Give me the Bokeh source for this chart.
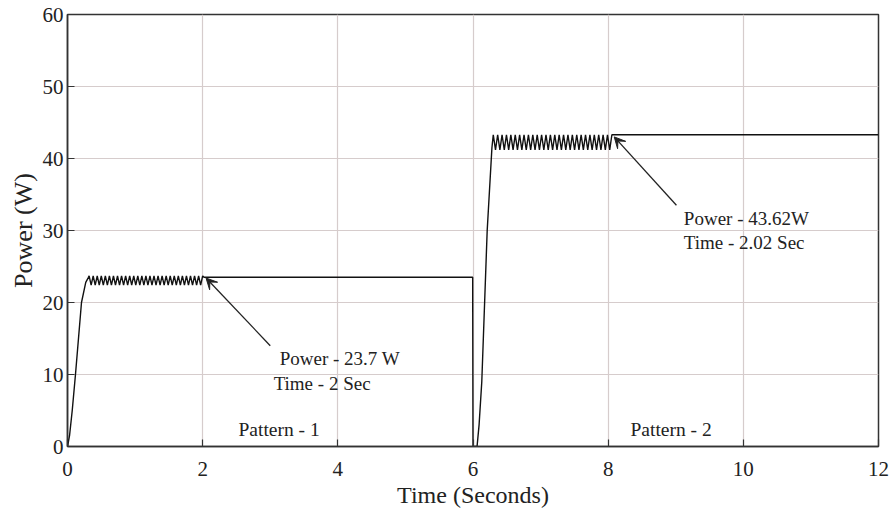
from bokeh.plotting import figure
from bokeh.models import Arrow, VeeHead, Range1d, FixedTicker
from bokeh.core.properties import value
from bokeh.embed import file_html
from bokeh.resources import INLINE

# ---- data ----
rise1_t = [0.0, 0.03, 0.07, 0.118, 0.207, 0.27, 0.31]
rise1_p = [0.0, 1.5, 5.0, 10.0, 20.0, 22.8, 23.5]

osc1_t = [0.32, 0.35, 0.38, 0.41, 0.44, 0.47, 0.50, 0.53, 0.56, 0.59, 0.62, 0.65,
          0.68, 0.71, 0.74, 0.77, 0.80, 0.83, 0.86, 0.89, 0.92, 0.95, 0.98, 1.01,
          1.04, 1.07, 1.10, 1.13, 1.16, 1.19, 1.22, 1.25, 1.28, 1.31, 1.34, 1.37,
          1.40, 1.43, 1.46, 1.49, 1.52, 1.55, 1.58, 1.61, 1.64, 1.67, 1.70, 1.73,
          1.76, 1.79, 1.82, 1.85, 1.88, 1.91, 1.94, 1.97, 2.00]
osc1_p = [23.7, 22.4, 23.7, 22.4, 23.7, 22.4, 23.7, 22.4, 23.7, 22.4, 23.7, 22.4,
          23.7, 22.4, 23.7, 22.4, 23.7, 22.4, 23.7, 22.4, 23.7, 22.4, 23.7, 22.4,
          23.7, 22.4, 23.7, 22.4, 23.7, 22.4, 23.7, 22.4, 23.7, 22.4, 23.7, 22.4,
          23.7, 22.4, 23.7, 22.4, 23.7, 22.4, 23.7, 22.4, 23.7, 22.4, 23.7, 22.4,
          23.7, 22.4, 23.7, 22.4, 23.7, 22.4, 23.7, 22.4, 23.7]

flat1_t = [2.02, 5.995, 6.0, 6.06, 6.09, 6.13, 6.21, 6.28]
flat1_p = [23.5, 23.5, 0.0, 0.0, 3.0, 9.0, 30.0, 41.5]

osc2_t = [6.300, 6.333, 6.365, 6.398, 6.430, 6.463, 6.495, 6.528, 6.560, 6.593,
          6.625, 6.658, 6.690, 6.723, 6.755, 6.788, 6.820, 6.853, 6.885, 6.918,
          6.950, 6.983, 7.015, 7.048, 7.080, 7.113, 7.145, 7.178, 7.210, 7.243,
          7.275, 7.308, 7.340, 7.373, 7.405, 7.438, 7.470, 7.503, 7.535, 7.568,
          7.600, 7.633, 7.665, 7.698, 7.730, 7.763, 7.795, 7.828, 7.860, 7.893,
          7.925, 7.958, 7.990, 8.023, 8.055]
osc2_p = [43.3, 41.2, 43.3, 41.2, 43.3, 41.2, 43.3, 41.2, 43.3, 41.2,
          43.3, 41.2, 43.3, 41.2, 43.3, 41.2, 43.3, 41.2, 43.3, 41.2,
          43.3, 41.2, 43.3, 41.2, 43.3, 41.2, 43.3, 41.2, 43.3, 41.2,
          43.3, 41.2, 43.3, 41.2, 43.3, 41.2, 43.3, 41.2, 43.3, 41.2,
          43.3, 41.2, 43.3, 41.2, 43.3, 41.2, 43.3, 41.2, 43.3, 41.2,
          43.3, 41.2, 43.3, 41.2, 43.3]

flat2_t = [8.07, 12.0]
flat2_p = [43.3, 43.3]

x_ticks = [0, 2, 4, 6, 8, 10, 12]
y_ticks = [0, 10, 20, 30, 40, 50, 60]

note_text = ["Power - 23.7 W", "Time - 2 Sec", "Power - 43.62W", "Time - 2.02 Sec"]
note_x = [3.14, 3.05, 9.12, 9.12]
note_y = [12.2, 8.8, 31.7, 28.3]

pattern_text = ["Pattern - 1", "Pattern - 2"]
pattern_x = [2.53, 8.33]
pattern_y = [2.4, 2.3]

arrows = [  # (x_start, y_start, x_end, y_end)
    (3.00, 14.0, 2.05, 23.4),
    (9.01, 33.5, 8.09, 43.0),
]

# ---- figure ----
FONT = "Liberation Serif"
p = figure(width=895, height=518, output_backend="svg", toolbar_location=None,
           x_range=Range1d(0, 12), y_range=Range1d(0, 60),
           min_border_left=67, min_border_right=17, min_border_top=14,
           min_border_bottom=72)
p.background_fill_color = "white"
p.border_fill_color = "white"
p.outline_line_color = "#333333"
p.outline_line_width = 1.5

for g in (p.xgrid, p.ygrid):
    g.grid_line_color = "#d6cccc"
    g.grid_line_width = 1.2

p.xaxis.ticker = FixedTicker(ticks=x_ticks)
p.yaxis.ticker = FixedTicker(ticks=y_ticks)
p.xgrid.ticker = FixedTicker(ticks=x_ticks)
p.ygrid.ticker = FixedTicker(ticks=y_ticks)

for ax in (p.xaxis[0], p.yaxis[0]):
    ax.major_tick_in = 7
    ax.major_tick_out = 0
    ax.minor_tick_line_color = None
    ax.axis_line_color = "#333333"
    ax.axis_line_width = 1.5
    ax.major_tick_line_color = "#333333"
    ax.major_tick_line_width = 1.2
    ax.major_label_text_font = FONT
    ax.major_label_text_font_size = "21px"
    ax.major_label_text_color = "#222222"
    ax.axis_label_text_font = FONT
    ax.axis_label_text_font_style = "normal"
    ax.axis_label_text_color = "#222222"

p.xaxis.axis_label = "Time (Seconds)"
p.yaxis.axis_label = "Power (W)"
p.xaxis.axis_label_text_font_size = "24px"
p.yaxis.axis_label_text_font_size = "26px"
p.xaxis.major_label_standoff = 15
p.yaxis.major_label_standoff = 4
p.xaxis.axis_label_standoff = 3
p.yaxis.axis_label_standoff = 2

# curve
t_all = rise1_t + osc1_t + flat1_t + osc2_t + flat2_t
p_all = rise1_p + osc1_p + flat1_p + osc2_p + flat2_p
p.line(t_all, p_all, line_color="#111111", line_width=1.4)

# annotations
p.text(x=note_x, y=note_y, text=note_text, text_font=value(FONT),
       text_font_size="19px", text_color="#222222", text_baseline="middle",
       text_align="left")
p.text(x=pattern_x, y=pattern_y, text=pattern_text, text_font=value(FONT),
       text_font_size="19.5px", text_color="#222222", text_baseline="middle",
       text_align="left")

for xs, ys, xe, ye in arrows:
    p.add_layout(Arrow(x_start=xs, y_start=ys, x_end=xe, y_end=ye,
                       line_color="#222222", line_width=1.3,
                       end=VeeHead(size=11, fill_color="#222222",
                                   line_color="#222222")))

open("out.html", "w").write(file_html(p, INLINE))
